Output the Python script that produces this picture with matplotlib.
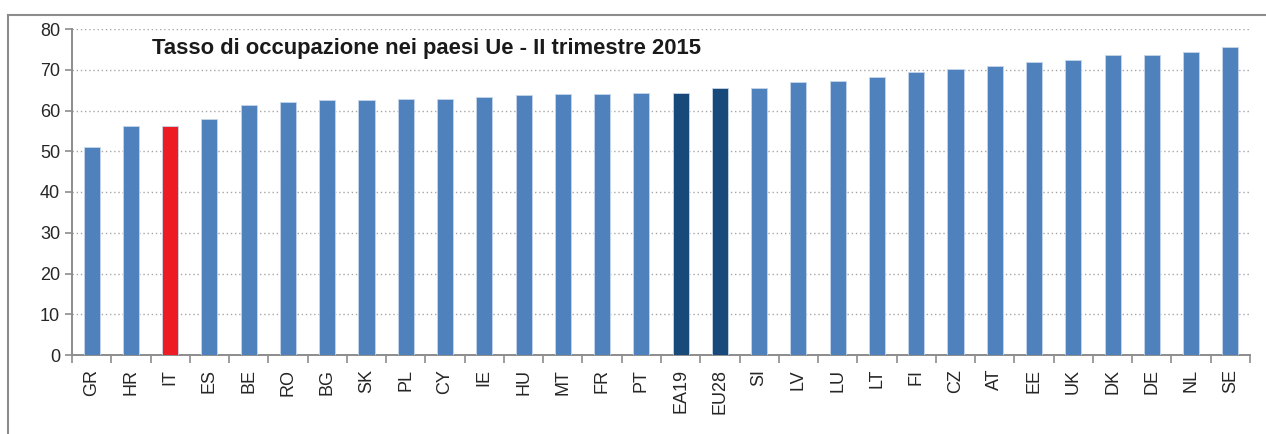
import numpy as np
import matplotlib.pyplot as plt
from matplotlib.lines import Line2D

# Data
paesi = ["GR", "HR", "IT", "ES", "BE", "RO", "BG", "SK", "PL", "CY", "IE", "HU", "MT", "FR", "PT",
         "EA19", "EU28", "SI", "LV", "LU", "LT", "FI", "CZ", "AT", "EE", "UK", "DK", "DE", "NL", "SE"]
tasso = [51.0, 56.3, 56.3, 57.9, 61.4, 62.1, 62.5, 62.6, 62.7, 62.9, 63.2, 63.8, 64.0, 64.1, 64.3,
         64.4, 65.6, 65.6, 67.1, 67.3, 68.3, 69.5, 70.3, 71.0, 71.8, 72.5, 73.6, 73.7, 74.3, 75.7]
evidenza = {"IT": "#ED1C24", "EA19": "#17497A", "EU28": "#17497A"}
y_ticks = [0, 10, 20, 30, 40, 50, 60, 70, 80]

plt.rcParams['font.family'] = ['Liberation Sans', 'DejaVu Sans']

fig = plt.figure(figsize=(12.66, 4.34), dpi=100)
ax = fig.add_axes([72 / 1266, 1 - 355 / 434, (1250 - 72) / 1266, (355 - 29) / 434])

x = np.arange(len(paesi))
colori = [evidenza.get(p, "#4F81BD") for p in paesi]
ax.bar(x, tasso, width=0.41, color=colori, edgecolor="#C6D6EA", linewidth=0.6, zorder=3)

ax.set_xlim(-0.5, len(paesi) - 0.5)
ax.set_ylim(0, 80)
ax.set_yticks(y_ticks)
ax.yaxis.grid(True, linestyle=(0, (1, 2)), color="#A6A6A6", linewidth=1.0, zorder=0)

ax.set_xticks(x)
ax.set_xticklabels(paesi, rotation=90, fontsize=13, color="#262626")
ax.set_xticks(np.arange(-0.5, len(paesi)), minor=True)
ax.tick_params(axis="x", which="major", length=0, pad=10)
ax.tick_params(axis="x", which="minor", length=6, width=1.2, color="#8C8C8C", direction="out")
ax.tick_params(axis="y", labelsize=13, labelcolor="#262626", length=5, width=1.2,
               color="#8C8C8C", direction="out")

for lato in ["top", "right"]:
    ax.spines[lato].set_visible(False)
for lato in ["left", "bottom"]:
    ax.spines[lato].set_color("#8C8C8C")
    ax.spines[lato].set_linewidth(1.4)

ax.text(0.068, 0.972, "Tasso di occupazione nei paesi Ue - II trimestre 2015",
        transform=ax.transAxes, fontsize=15.8, fontweight="bold", color="#1A1A1A",
        va="top", ha="left")

# cornice esterna
fig.add_artist(Line2D([8 / 1266, 8 / 1266], [0, 1 - 15 / 434], transform=fig.transFigure,
                      color="#8C8C8C", linewidth=1.5))
fig.add_artist(Line2D([8 / 1266, 1], [1 - 15 / 434, 1 - 15 / 434], transform=fig.transFigure,
                      color="#8C8C8C", linewidth=1.5))

fig.savefig("out.png", dpi=100)
